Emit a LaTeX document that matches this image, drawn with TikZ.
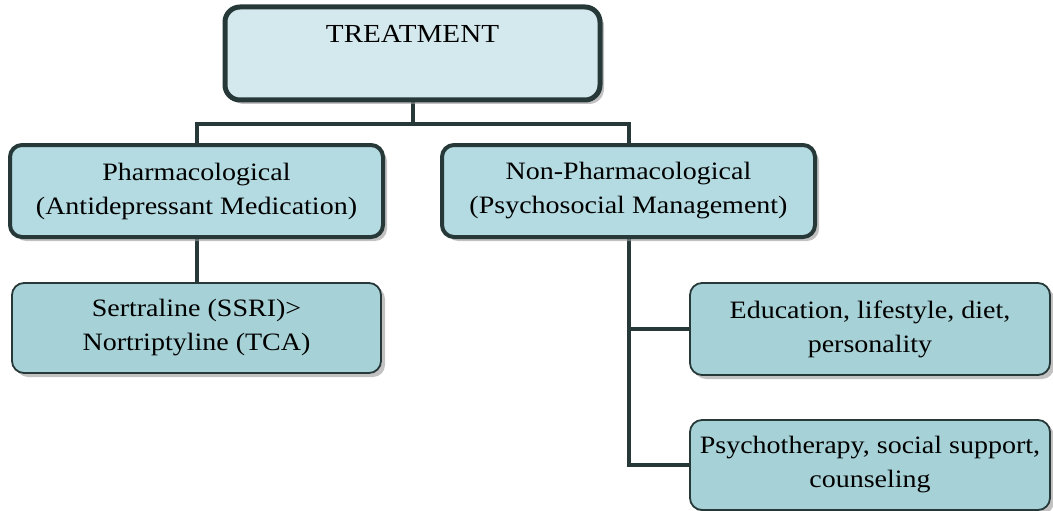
\documentclass[tikz,border=0pt]{standalone}
\usepackage{fontspec}
\setmainfont{Liberation Serif}[FakeStretch=1.12]
\usepackage{tikz}
\usetikzlibrary{shadows,backgrounds}

\definecolor{edge}{HTML}{263838}
\definecolor{topfill}{HTML}{D4E9EE}
\definecolor{midfill}{HTML}{B3DBE1}
\definecolor{lowfill}{HTML}{A6D1D6}

\tikzset{
  box/.style={draw=edge, rounded corners=12pt, align=center, inner sep=0pt,
    font=\rmfamily\fontsize{25}{34}\selectfont,
    drop shadow={shadow xshift=4pt, shadow yshift=-4pt, fill=black!40, opacity=.6}},
  topbox/.style={box, fill=topfill, line width=5pt, rounded corners=15pt,
    font=\rmfamily\fontsize{26}{30}\selectfont},
  midbox/.style={box, fill=midfill, line width=4pt},
  lowbox/.style={box, fill=lowfill, line width=1.8pt},
  link/.style={draw=edge, line width=4pt}
}

\begin{document}
\begin{tikzpicture}[x=1pt,y=-1pt]
\useasboundingbox (0,0) rectangle (1053,511);

\node[topbox, minimum width=375pt, text height=36pt, text depth=57pt] (treat) at (412.5,53.5) {TREATMENT};

\node[midbox, minimum width=373pt, minimum height=92pt] (pharma) at (196.5,191) {Pharmacological\\(Antidepressant Medication)};
\node[midbox, minimum width=373pt, minimum height=92pt] (nonpharma) at (628.5,191) {Non-Pharmacological\\(Psychosocial Management)};

\node[lowbox, minimum width=369pt, minimum height=90pt] (sert) at (196.5,328) {Sertraline (SSRI)>\\Nortriptyline (TCA)};
\node[lowbox, minimum width=360pt, minimum height=92pt] (educ) at (870,329) {Education, lifestyle, diet,\\personality};
\node[lowbox, minimum width=360pt, minimum height=90pt] (psych) at (870,465) {Psychotherapy, social support,\\counseling};

\coordinate (bus) at (0,124);

\begin{scope}[on background layer]
\draw[link] (treat.south) -- (treat.south |- bus) -| (pharma.north);
\draw[link] (treat.south |- bus) -| (nonpharma.north);
\draw[link] (pharma.south) -- (sert.north);
\draw[link] (nonpharma.south) |- (educ.west);
\draw[link] (nonpharma.south) |- (psych.west);
\end{scope}
\end{tikzpicture}
\end{document}
